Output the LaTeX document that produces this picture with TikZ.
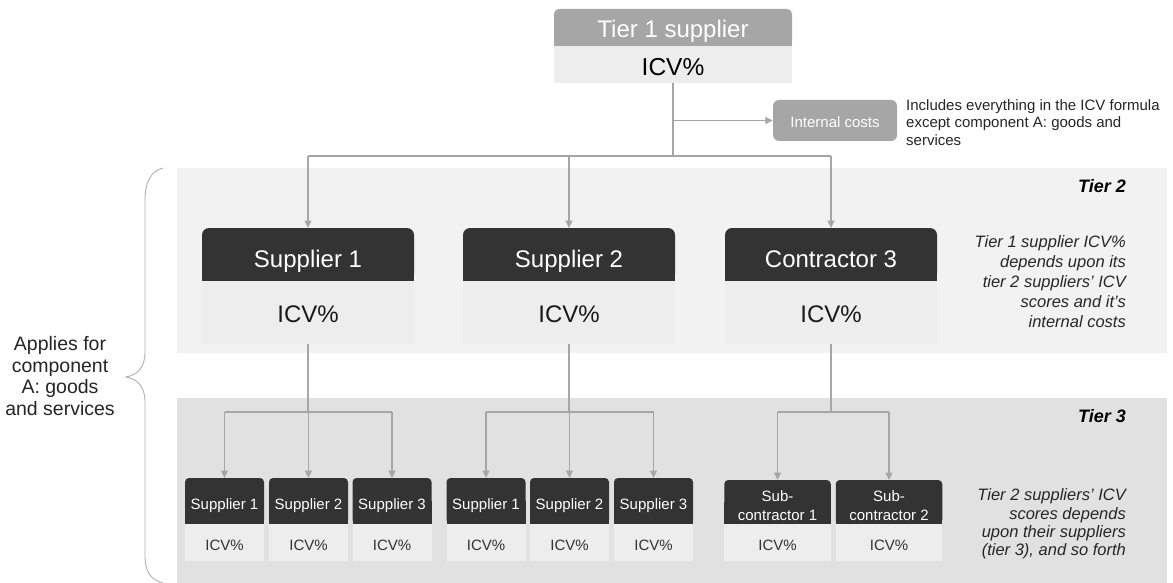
\documentclass[tikz,border=0pt]{standalone}
\usepackage{fontspec}
\setmainfont{Liberation Sans}
\usetikzlibrary{arrows.meta}
\definecolor{dark}{HTML}{333333}
\definecolor{midgray}{HTML}{A6A6A6}
\definecolor{bodygray}{HTML}{EDEDED}
\definecolor{tiertwo}{HTML}{F2F2F2}
\definecolor{tierthree}{HTML}{E1E1E1}
\definecolor{linegray}{HTML}{A6A6A6}
\definecolor{bracegray}{HTML}{B0B0B0}
\definecolor{txt}{HTML}{262626}
\pgfdeclarelayer{bg}
\pgfdeclarelayer{patch}
\pgfsetlayers{bg,patch,main}
\newcommand\fsz[2]{\fontsize{#1}{#2}\selectfont}
\newcommand\twoline[2]{\raisebox{-8.75pt}[0pt][0pt]{\begin{tabular}{@{}c@{}}#1\\#2\end{tabular}}}
\begin{document}
\begin{tikzpicture}[x=1pt,y=-1pt,
  box/.style={inner sep=0pt, outer sep=0pt, anchor=north},
  hdrone/.style={box, fill=midgray, text=white, rounded corners=5pt, minimum width=238pt, minimum height=37pt, font=\fsz{24}{28}, text height=20pt, text depth=0pt},
  bodyone/.style={box, fill=bodygray, text=black, minimum width=238pt, minimum height=37pt, font=\fsz{24.5}{28}, text height=23pt, text depth=0pt},
  hdrtwo/.style={box, fill=dark, text=white, rounded corners=7pt, minimum width=212pt, minimum height=53pt, font=\fsz{24}{28}, text height=25pt, text depth=0pt},
  bodytwo/.style={box, fill=bodygray, text=black!90, minimum width=212pt, minimum height=63pt, font=\fsz{24}{28}, text height=20pt, text depth=0pt},
  hdrthree/.style={box, fill=dark, text=white, rounded corners=4pt, minimum height=46pt, font=\fsz{15}{18.7}},
  suphdr/.style={hdrthree, minimum width=79pt, text height=16.5pt, text depth=0pt},
  subhdr/.style={hdrthree, minimum width=106.5pt, minimum height=44pt},
  bodythree/.style={box, fill=bodygray, text=black!80, minimum height=37pt, font=\fsz{15}{18}, text height=15pt, text depth=0pt},
  icbox/.style={inner sep=0pt, fill=midgray, text=white, rounded corners=6pt, minimum width=124pt, minimum height=41pt, font=\fsz{15}{18}, text height=14.7pt, text depth=0pt},
  desc/.style={inner sep=0pt, text=txt},
  tierlabel/.style={inner sep=0pt, anchor=east, text=black, font=\fsz{18}{22}\bfseries\itshape},
  conn/.style={draw=linegray, line width=1.3pt},
  arr/.style={conn, -{Triangle[length=7.5pt,width=7pt]}},
  brace/.style={draw=bracegray, line width=0.9pt}
]
\useasboundingbox (0,0) rectangle (1173,583);
\begin{pgfonlayer}{bg}
  \fill[white] (0,0) rectangle (1173,583);
  \fill[tiertwo] (177,168) rectangle (1167,353);
  \fill[tierthree] (177,398) rectangle (1167,583);
\end{pgfonlayer}

% Tier 1
\node[hdrone] (t1h) at (673,9) {Tier 1 supplier};
\node[bodyone] (t1b) at (t1h.south) {ICV\%};
\node[icbox] (ic) at (835,120.5) {Internal costs};
\node[desc, anchor=west, align=left, font=\fsz{15}{17.5}] (icdesc) at (906,122.5)
  {Includes everything in the ICV formula\\except component A: goods and\\services};

% Tier 2
\node[tierlabel] (lt2) at (1126,186) {Tier 2};
\node[hdrtwo] (h1) at (308,228) {Supplier 1};
\node[bodytwo] (b1) at (h1.south) {ICV\%};
\node[hdrtwo] (h2) at (569,228) {Supplier 2};
\node[bodytwo] (b2) at (h2.south) {ICV\%};
\node[hdrtwo] (h3) at (831,228) {Contractor 3};
\node[bodytwo] (b3) at (h3.south) {ICV\%};
\node[desc, anchor=east, align=right, font=\fsz{16.5}{20}\itshape] (d2) at (1126,282)
  {Tier 1 supplier ICV\%\\depends upon its\\tier 2 suppliers’ ICV\\scores and it’s\\internal costs};

% Tier 3
\node[tierlabel] (lt3) at (1126,416) {Tier 3};
\node[suphdr] (s11) at (224.5,478) {Supplier 1};
\node[bodythree, minimum width=79pt] (c11) at (s11.south) {ICV\%};
\node[suphdr] (s12) at (308.5,478) {Supplier 2};
\node[bodythree, minimum width=79pt] (c12) at (s12.south) {ICV\%};
\node[suphdr] (s13) at (392,478) {Supplier 3};
\node[bodythree, minimum width=79pt] (c13) at (s13.south) {ICV\%};
\node[suphdr] (s21) at (486,478) {Supplier 1};
\node[bodythree, minimum width=79pt] (c21) at (s21.south) {ICV\%};
\node[suphdr] (s22) at (569.5,478) {Supplier 2};
\node[bodythree, minimum width=79pt] (c22) at (s22.south) {ICV\%};
\node[suphdr] (s23) at (653.5,478) {Supplier 3};
\node[bodythree, minimum width=79pt] (c23) at (s23.south) {ICV\%};
\node[subhdr] (s31) at (777.5,480) {\twoline{Sub-}{contractor 1}};
\node[bodythree, minimum width=106.5pt] (c31) at (s31.south) {ICV\%};
\node[subhdr] (s32) at (889,480) {\twoline{Sub-}{contractor 2}};
\node[bodythree, minimum width=106.5pt] (c32) at (s32.south) {ICV\%};
\node[desc, anchor=east, align=right, font=\fsz{16.5}{18.2}\itshape] (d3) at (1126,524)
  {Tier 2 suppliers’ ICV\\scores depends\\upon their suppliers\\(tier 3), and so forth};

% square off bottom corners of the headers
\begin{pgfonlayer}{patch}
  \fill[midgray] (t1h.west) rectangle (t1h.south east);
  \foreach \n in {h1,h2,h3,s11,s12,s13,s21,s22,s23,s31,s32}
    \fill[dark] (\n.west) rectangle (\n.south east);
\end{pgfonlayer}

% Left brace and label
\node[inner sep=0pt, align=center, text=txt, font=\fsz{19.5}{21.7}] (apl) at (60,376)
  {Applies for\\component\\A: goods\\and services};
\draw[brace] (163,168) .. controls (151,171) and (145,182) .. (145,200) -- (145,352)
  .. controls (145,368) and (137,375) .. (126,377)
  .. controls (137,379) and (145,386) .. (145,402) -- (145,556)
  .. controls (145,572) and (151,580) .. (163,583);

% Connectors tier 1 -> tier 2
\coordinate (j1) at (t1b.south |- 0,156);
\coordinate (jic) at (t1b.south |- ic.west);
\draw[conn] (t1b.south) -- (j1);
\draw[arr] (jic) -- (ic.west);
\draw[conn] (h1.north |- j1) -- (h3.north |- j1);
\draw[arr] (h1.north |- j1) -- (h1.north);
\draw[arr] (h2.north |- j1) -- (h2.north);
\draw[arr] (h3.north |- j1) -- (h3.north);

% Connectors tier 2 -> tier 3
\coordinate (j2) at (0,412);
\draw[conn] (b1.south) -- (b1.south |- j2);
\draw[conn] (s11.north |- j2) -- (s13.north |- j2);
\draw[arr] (s11.north |- j2) -- (s11.north);
\draw[arr] (s12.north |- j2) -- (s12.north);
\draw[arr] (s13.north |- j2) -- (s13.north);

\draw[conn] (b2.south) -- (b2.south |- j2);
\draw[conn] (s21.north |- j2) -- (s23.north |- j2);
\draw[arr] (s21.north |- j2) -- (s21.north);
\draw[arr] (s22.north |- j2) -- (s22.north);
\draw[arr] (s23.north |- j2) -- (s23.north);

\draw[conn] (b3.south) -- (b3.south |- j2);
\draw[conn] (s31.north |- j2) -- (s32.north |- j2);
\draw[arr] (s31.north |- j2) -- (s31.north);
\draw[arr] (s32.north |- j2) -- (s32.north);
\end{tikzpicture}
\end{document}
